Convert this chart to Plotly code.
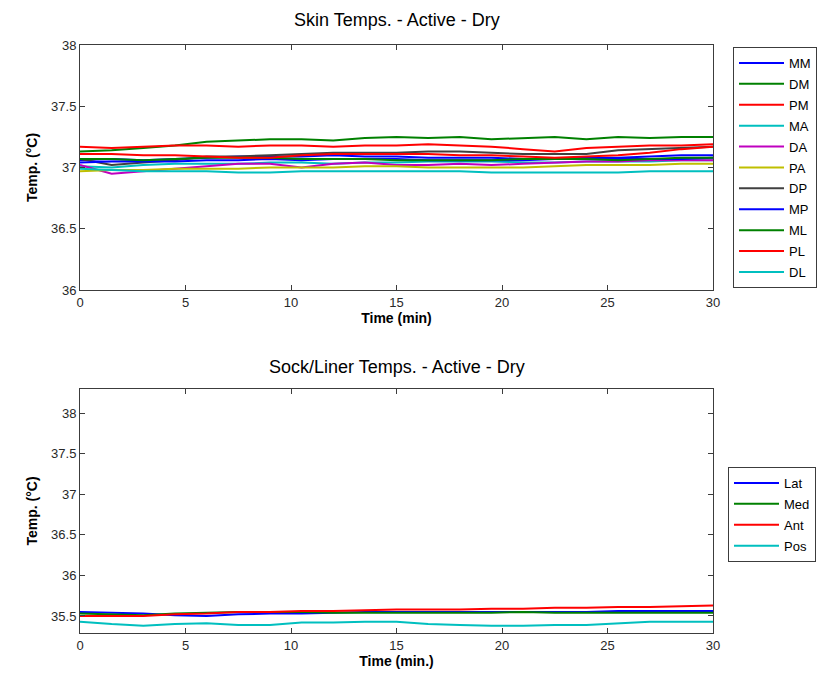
import plotly.graph_objects as go

# ---------------- data ----------------
time = [0, 1.5, 3, 4.5, 6, 7.5, 9, 10.5, 12, 13.5, 15, 16.5, 18, 19.5, 21, 22.5, 24, 25.5, 27, 28.5, 30]

skin_names = ["MM", "DM", "PM", "MA", "DA", "PA", "DP", "MP", "ML", "PL", "DL"]
MM = [37.06, 37.07, 37.06, 37.07, 37.08, 37.09, 37.09, 37.09, 37.10, 37.09, 37.09, 37.08, 37.08, 37.08, 37.07, 37.07, 37.08, 37.08, 37.09, 37.10, 37.10]
DM = [37.13, 37.14, 37.16, 37.18, 37.21, 37.22, 37.23, 37.23, 37.22, 37.24, 37.25, 37.24, 37.25, 37.23, 37.24, 37.25, 37.23, 37.25, 37.24, 37.25, 37.25]
PM = [37.17, 37.16, 37.17, 37.18, 37.18, 37.17, 37.18, 37.18, 37.17, 37.18, 37.18, 37.19, 37.18, 37.17, 37.15, 37.13, 37.16, 37.17, 37.18, 37.18, 37.19]
MA = [37.01, 37.00, 37.02, 37.03, 37.03, 37.03, 37.04, 37.04, 37.03, 37.04, 37.04, 37.05, 37.05, 37.05, 37.04, 37.04, 37.05, 37.05, 37.05, 37.06, 37.06]
DA = [37.02, 36.95, 36.97, 36.99, 37.01, 37.03, 37.03, 37.00, 37.03, 37.04, 37.02, 37.02, 37.03, 37.02, 37.03, 37.04, 37.05, 37.05, 37.06, 37.06, 37.06]
PA = [36.97, 36.98, 36.98, 36.99, 36.99, 36.99, 37.00, 37.00, 37.00, 37.01, 37.01, 37.00, 37.00, 37.00, 37.00, 37.01, 37.02, 37.02, 37.02, 37.03, 37.03]
DP = [37.07, 37.02, 37.04, 37.06, 37.09, 37.09, 37.10, 37.11, 37.12, 37.12, 37.12, 37.13, 37.13, 37.12, 37.11, 37.11, 37.11, 37.14, 37.15, 37.16, 37.17]
MP = [37.04, 37.05, 37.05, 37.05, 37.06, 37.06, 37.07, 37.06, 37.07, 37.07, 37.07, 37.06, 37.06, 37.06, 37.06, 37.07, 37.07, 37.07, 37.07, 37.07, 37.08]
ML = [37.07, 37.07, 37.06, 37.07, 37.08, 37.08, 37.08, 37.07, 37.07, 37.07, 37.06, 37.06, 37.06, 37.06, 37.07, 37.07, 37.07, 37.06, 37.07, 37.08, 37.08]
PL = [37.11, 37.11, 37.10, 37.10, 37.09, 37.08, 37.08, 37.10, 37.11, 37.11, 37.11, 37.11, 37.10, 37.10, 37.09, 37.08, 37.09, 37.10, 37.12, 37.15, 37.17]
DL = [36.99, 36.98, 36.97, 36.97, 36.97, 36.96, 36.96, 36.97, 36.97, 36.97, 36.97, 36.97, 36.97, 36.96, 36.96, 36.96, 36.96, 36.96, 36.97, 36.97, 36.97]
skin_values = [MM, DM, PM, MA, DA, PA, DP, MP, ML, PL, DL]

sock_names = ["Lat", "Med", "Ant", "Pos"]
Lat = [35.55, 35.54, 35.53, 35.51, 35.50, 35.52, 35.53, 35.53, 35.54, 35.55, 35.55, 35.55, 35.55, 35.55, 35.55, 35.55, 35.55, 35.56, 35.56, 35.56, 35.56]
Med = [35.53, 35.52, 35.51, 35.53, 35.54, 35.55, 35.55, 35.55, 35.54, 35.54, 35.54, 35.54, 35.54, 35.54, 35.55, 35.54, 35.54, 35.54, 35.54, 35.54, 35.54]
Ant = [35.50, 35.50, 35.50, 35.52, 35.53, 35.55, 35.55, 35.56, 35.56, 35.57, 35.58, 35.58, 35.58, 35.59, 35.59, 35.60, 35.60, 35.61, 35.61, 35.62, 35.63]
Pos = [35.43, 35.40, 35.38, 35.40, 35.41, 35.39, 35.39, 35.42, 35.42, 35.43, 35.43, 35.40, 35.39, 35.38, 35.38, 35.39, 35.39, 35.41, 35.43, 35.43, 35.43]
sock_values = [Lat, Med, Ant, Pos]

x_ticks = [0, 5, 10, 15, 20, 25, 30]
top_y_ticks = [36, 36.5, 37, 37.5, 38]
bot_y_ticks = [35.5, 36, 36.5, 37, 37.5, 38]

# MATLAB default color order
colors = ["rgb(0,0,255)", "rgb(0,128,0)", "rgb(255,0,0)", "rgb(0,191,191)",
          "rgb(191,0,191)", "rgb(191,191,0)", "rgb(64,64,64)"]

OFF = 8                      # browser body margin
W, H = 825 - OFF, 687 - OFF
FONT = "Liberation Sans, Arial, Helvetica, sans-serif"
AX = "rgb(60,60,60)"

fig = go.Figure()
for i, (n, v) in enumerate(zip(skin_names, skin_values)):
    fig.add_trace(go.Scatter(x=time, y=v, mode="lines", name=n,
                             line=dict(color=colors[i % 7], width=2),
                             xaxis="x", yaxis="y", legend="legend", legendgroup="s" + n))
for i, (n, v) in enumerate(zip(sock_names, sock_values)):
    fig.add_trace(go.Scatter(x=time, y=v, mode="lines", name=n,
                             line=dict(color=colors[i % 7], width=2),
                             xaxis="x2", yaxis="y2", legend="legend2", legendgroup="k" + n))

def px_x(p):
    return (p - OFF) / W

def px_y(p):
    return 1 - (p - OFF) / H

xdom = [px_x(80), px_x(713)]
common_axis = dict(showline=True, linecolor=AX, linewidth=1, mirror="ticks",
                   ticks="inside", ticklen=5, tickcolor=AX, showgrid=False, zeroline=False,
                   automargin=False,
                   tickfont=dict(family=FONT, size=13, color="rgb(40,40,40)"))

fig.update_layout(
    width=W, height=H, margin=dict(l=0, r=0, t=0, b=0),
    paper_bgcolor="white", plot_bgcolor="white",
    font=dict(family=FONT, color="black"),
    xaxis=dict(domain=xdom, range=[0, 30], tickvals=x_ticks, anchor="y",
               title=dict(text="<b>Time (min)</b>", font=dict(size=14), standoff=4), **common_axis),
    yaxis=dict(domain=[px_y(290), px_y(45)], range=[36, 38], tickvals=top_y_ticks,
               ticktext=[f"{t:g}" for t in top_y_ticks], anchor="x",
               title=dict(text="<b>Temp. (°C)</b>", font=dict(size=14), standoff=10), **common_axis),
    xaxis2=dict(domain=xdom, range=[0, 30], tickvals=x_ticks, anchor="y2",
                title=dict(text="<b>Time (min.)</b>", font=dict(size=14), standoff=4), **common_axis),
    yaxis2=dict(domain=[px_y(633), px_y(389)], range=[35.29, 38.3], tickvals=bot_y_ticks,
                ticktext=[f"{t:g}" for t in bot_y_ticks], anchor="x2",
                title=dict(text="<b>Temp. (°C)</b>", font=dict(size=14), standoff=10), **common_axis),
    legend=dict(x=px_x(733), y=px_y(47), xanchor="left", yanchor="top",
                bordercolor=AX, borderwidth=1, bgcolor="white",
                font=dict(family=FONT, size=13, color="black"),
                traceorder="grouped", tracegroupgap=1, itemwidth=45),
    legend2=dict(x=px_x(728), y=px_y(467), xanchor="left", yanchor="top",
                 bordercolor=AX, borderwidth=1, bgcolor="white",
                 font=dict(family=FONT, size=13, color="black"),
                 traceorder="grouped", tracegroupgap=1, itemwidth=45),
    annotations=[
        dict(text="Skin Temps. - Active - Dry", x=(xdom[0] + xdom[1]) / 2, y=px_y(20),
             xref="paper", yref="paper", showarrow=False, xanchor="center", yanchor="middle",
             font=dict(family=FONT, size=18, color="black")),
        dict(text="Sock/Liner Temps. - Active - Dry", x=(xdom[0] + xdom[1]) / 2, y=px_y(367),
             xref="paper", yref="paper", showarrow=False, xanchor="center", yanchor="middle",
             font=dict(family=FONT, size=18, color="black")),
    ],
)

fig.write_html("out.html")
